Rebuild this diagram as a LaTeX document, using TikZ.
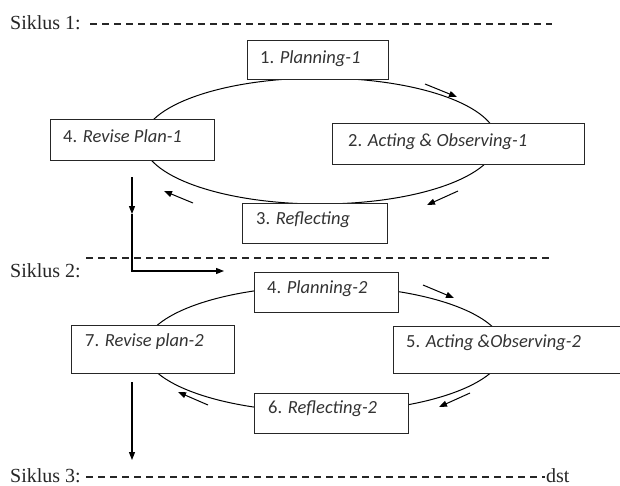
\documentclass[tikz,border=0pt]{standalone}
\usepackage{fontspec}
\setmainfont{Liberation Serif}
\newfontfamily\boxfont{Carlito}
\usetikzlibrary{arrows.meta,decorations.markings}
\begin{document}
\begin{tikzpicture}[x=1pt,y=-1pt,
  boxst/.style={draw=black!85,line width=1.3pt,fill=white,inner sep=0pt,anchor=north west},
  txt/.style={anchor=base west,inner sep=0pt,text=black!80,font=\boxfont\fontsize{18.5}{22}\selectfont},
  sik/.style={anchor=base west,inner sep=0pt,text=black!85,font=\fontsize{20}{24}\selectfont},
  dashline/.style={line width=1.2pt,dash pattern=on 7pt off 5pt,black!85},
  loop/.style={line width=1pt,black},
  arr/.style={line width=1pt,-{Triangle[length=8pt,width=6pt]}},
  flow/.style={line width=1.1pt}
]
\clip (0,0) rectangle (620,485);
\fill[white] (0,0) rectangle (620,485);

% Siklus 1
\node[sik] (s1) at (10,29) {Siklus 1:};
\coordinate (d1a) at (90,24); \coordinate (d1b) at (552,24);
\draw[dashline] (d1a) -- (d1b);

\draw[loop] (320,141) ellipse [x radius=177, y radius=63];

\node[boxst,minimum width=141,minimum height=39] (b1) at (247,40) {};
\node[txt] (t1) at (260,63) {1. \textit{Planning-1}};
\node[boxst,minimum width=164,minimum height=41] (b4) at (50,119) {};
\node[txt] (t4) at (63,142) {4. \textit{Revise Plan-1}};
\node[boxst,minimum width=252,minimum height=41] (b2) at (332,123) {};
\node[txt] (t2) at (348,146) {2. \textit{Acting \& Observing-1}};
\node[boxst,minimum width=145,minimum height=40] (b3) at (242,203) {};
\node[txt] (t3) at (256,224) {3. \textit{Reflecting}};

\coordinate (a1s) at (425,84); \coordinate (a1e) at (457,97);
\draw[arr] (a1s) -- (a1e);
\coordinate (a2s) at (458,191); \coordinate (a2e) at (427,205);
\draw[arr] (a2s) -- (a2e);
\coordinate (a3s) at (193,203); \coordinate (a3e) at (164,191);
\draw[arr] (a3s) -- (a3e);

% flow 1 -> 2
\coordinate (v1s) at (132,177); \coordinate (v1m) at (132,214);
\coordinate (v1c) at (132,271); \coordinate (v1e) at (224,271);
\draw[flow,-{Triangle[length=8pt,width=6pt]}] (v1s) -- (v1m);
\draw[flow,-{Triangle[length=8pt,width=6pt]}] (v1m) -- (v1c) -- (v1e);

% Siklus 2
\node[sik] (s2) at (10,277) {Siklus 2:};
\coordinate (d2a) at (86,258); \coordinate (d2b) at (552,258);
\draw[dashline] (d2a) -- (d2b);

\draw[loop] (324,349) ellipse [x radius=180, y radius=63];

\node[boxst,minimum width=144,minimum height=40] (p2) at (254,272) {};
\node[txt] (tp2) at (267,293) {4. \textit{Planning-2}};
\node[boxst,minimum width=163,minimum height=48] (b7) at (71,325) {};
\node[txt] (t7) at (85,346) {7. \textit{Revise plan-2}};
\node[boxst,minimum width=235,minimum height=47] (b5) at (393,326) {};
\node[txt] (t5) at (406,347) {5. \textit{Acting \&Observing-2}};
\node[boxst,minimum width=154,minimum height=40] (b6) at (254,393) {};
\node[txt] (t6) at (268,413) {6. \textit{Reflecting-2}};

\coordinate (c1s) at (423,285); \coordinate (c1e) at (454,298);
\draw[arr] (c1s) -- (c1e);
\coordinate (c2s) at (470,393); \coordinate (c2e) at (439,407);
\draw[arr] (c2s) -- (c2e);
\coordinate (c3s) at (208,405); \coordinate (c3e) at (178,392);
\draw[arr] (c3s) -- (c3e);

\coordinate (v2s) at (132,382); \coordinate (v2e) at (132,460);
\draw[flow,-{Triangle[length=8pt,width=6pt]}] (v2s) -- (v2e);

% Siklus 3
\node[sik] (s3) at (10,482) {Siklus 3:};
\coordinate (d3a) at (86,477); \coordinate (d3b) at (545,477);
\draw[dashline] (d3a) -- (d3b);
\node[sik] (dst) at (546,482) {dst};
\end{tikzpicture}
\end{document}
